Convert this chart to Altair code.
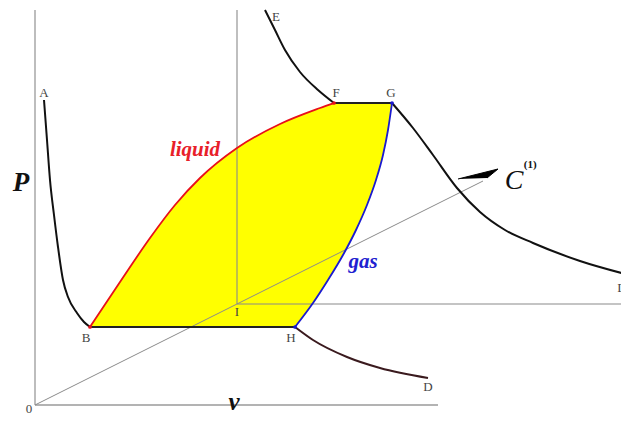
import altair as alt
import pandas as pd

# ---- curve data (v, P) ----
ab_v = [0.225, 0.3, 0.375, 0.475, 0.575, 0.7, 0.825, 1.05, 1.225, 1.375]
ab_p = [7.625, 6.625, 5.625, 4.75, 3.95, 3.125, 2.7, 2.3, 2.075, 1.95]

liq_v = [1.375, 2.125, 2.875, 3.5, 4.125, 5.05, 6.125, 7.125, 7.475]
liq_p = [1.95, 3.075, 4.175, 5.0, 5.675, 6.425, 7.025, 7.425, 7.55]

gas_v = [6.5, 6.95, 7.325, 7.7, 8.025, 8.3, 8.525, 8.7, 8.825, 8.925]
gas_p = [1.95, 2.55, 3.125, 3.75, 4.375, 5.0, 5.625, 6.25, 6.875, 7.55]

ef_v = [5.75, 6.0, 6.25, 6.625, 7.075, 7.475]
ef_p = [9.875, 9.375, 8.875, 8.325, 7.875, 7.55]

gd_v = [8.925, 9.45, 9.95, 10.55, 11.125, 11.75, 12.45, 13.625, 14.85]
gd_p = [7.55, 6.925, 6.25, 5.425, 4.825, 4.375, 4.05, 3.6, 3.25]

hd_v = [6.5, 6.95, 7.8, 8.625, 9.825]
hd_p = [1.95, 1.625, 1.2, 0.925, 0.675]

bh_v = [1.375, 6.5]
bh_p = [1.95, 1.95]
fg_v = [7.475, 8.925]
fg_p = [7.55, 7.55]

# guide lines
axis_v_v = [0, 0]; axis_v_p = [0, 9.875]
axis_h_v = [0, 10.075]; axis_h_p = [0, 0]
inner_v_v = [5.05, 5.05]; inner_v_p = [2.525, 9.875]
inner_h_v = [5.05, 14.9]; inner_h_p = [2.525, 2.525]
diag_v = [0, 11.2]; diag_p = [0, 5.6]

arrow_v = [10.575, 11.575, 11.3]
arrow_p = [5.65, 5.9, 5.675]

# vertex dots
dot_v = [1.375, 7.475, 8.925, 6.5]
dot_p = [1.95, 7.55, 7.55, 1.95]
dot_c = ["#e8101a", "#e8101a", "#1a1ad0", "#1a1ad0"]

# labels
lab_text = ["A", "B", "H", "D", "D", "E", "F", "G", "I", "0"]
lab_v = [0.225, 1.275, 6.4, 9.825, 14.675, 6.025, 7.525, 8.9, 5.05, -0.15]
lab_p = [7.8, 1.675, 1.675, 0.45, 2.925, 9.7, 7.8, 7.8, 2.325, -0.1]

curve_rows = []
straight_rows = []
def add(target, name, vs, ps, color, width):
    for i, (v, p) in enumerate(zip(vs, ps)):
        target.append(dict(series=name, i=i, v=v, P=p, col=color, w=width))

add(straight_rows, "axv", axis_v_v, axis_v_p, "#9a9a9a", 1.3)
add(straight_rows, "axh", axis_h_v, axis_h_p, "#9a9a9a", 1.3)
add(straight_rows, "inv", inner_v_v, inner_v_p, "#8a8a8a", 1.1)
add(straight_rows, "inh", inner_h_v, inner_h_p, "#8a8a8a", 1.1)
add(straight_rows, "diag", diag_v, diag_p, "#8a8a8a", 1.0)
add(straight_rows, "bh", bh_v, bh_p, "#222222", 2.0)
add(straight_rows, "fg", fg_v, fg_p, "#222222", 2.0)
add(curve_rows, "ab", ab_v, ab_p, "#111111", 2.0)
add(curve_rows, "ef", ef_v, ef_p, "#111111", 2.0)
add(curve_rows, "gd", gd_v, gd_p, "#111111", 2.0)
add(curve_rows, "hd", hd_v, hd_p, "#3a1a1e", 2.0)
add(curve_rows, "liq", liq_v, liq_p, "#e8101a", 1.8)
add(curve_rows, "gas", gas_v, gas_p, "#1a1ad0", 1.8)
curves_df = pd.DataFrame(curve_rows)
straight_df = pd.DataFrame(straight_rows)

rect_df = pd.DataFrame(dict(v=[bh_v[0]], v2=[fg_v[1]], P=[bh_p[0]], P2=[fg_p[0]]))
liq_df = pd.DataFrame(dict(v=liq_v, P=liq_p, top=[fg_p[0] + 0.05] * len(liq_v)))
gas_df = pd.DataFrame(dict(v=gas_v, P=gas_p, bot=[bh_p[0] - 0.05] * len(gas_v)))
arrow_df = pd.DataFrame(dict(v=arrow_v, P=arrow_p, i=list(range(len(arrow_v)))))
dot_df = pd.DataFrame(dict(v=dot_v, P=dot_p, c=dot_c))
lab_df = pd.DataFrame(dict(t=lab_text, v=lab_v, P=lab_p))

xs = alt.Scale(domain=[-0.675, 14.65], nice=False, zero=False)
ys = alt.Scale(domain=[-0.25, 9.925], nice=False, zero=False)
X = alt.X("v:Q", scale=xs, axis=None)
Y = alt.Y("P:Q", scale=ys, axis=None)

# yellow two-phase region: rectangle, trimmed outside the liquid and gas curves
yellow = alt.Chart(rect_df).mark_rect(color="#ffff00").encode(
    x=X, x2="v2:Q", y=Y, y2="P2:Q")
mask_liq = alt.Chart(liq_df).mark_area(color="white", interpolate="monotone", orient="vertical").encode(
    x=X, y=Y, y2="top:Q")
mask_gas = alt.Chart(gas_df).mark_area(color="white", interpolate="monotone", orient="vertical").encode(
    x=X, y=Y, y2="bot:Q")

straight = alt.Chart(straight_df).mark_line(clip=True).encode(
    x=X, y=Y, detail="series:N", order="i:Q",
    color=alt.Color("col:N", scale=None),
    strokeWidth=alt.StrokeWidth("w:Q", scale=None))

curves = alt.Chart(curves_df).mark_line(clip=True, interpolate="monotone").encode(
    x=X, y=Y, detail="series:N",
    color=alt.Color("col:N", scale=None),
    strokeWidth=alt.StrokeWidth("w:Q", scale=None))

arrow = alt.Chart(arrow_df).mark_line(fill="#000000", stroke="#000000", strokeWidth=1, clip=True).encode(
    x=X, y=Y, order="i:Q")

dots = alt.Chart(dot_df).mark_circle(size=14, opacity=1).encode(
    x=X, y=Y, color=alt.Color("c:N", scale=None))

labels = alt.Chart(lab_df).mark_text(font="Liberation Serif", fontSize=13, color="#444444", clip=True).encode(
    x=X, y=Y, text="t:N")

def txt(t, v, p, size, color, style="italic", weight="bold", baseline="middle"):
    d = pd.DataFrame(dict(t=[t], v=[v], P=[p]))
    return alt.Chart(d).mark_text(font="Liberation Serif", fontSize=size, color=color,
                                  fontStyle=style, fontWeight=weight, baseline=baseline).encode(
        x=X, y=Y, text="t:N")

t_liq = txt("liquid", 4.0, 6.375, 21, "#e8202a")
t_gas = txt("gas", 8.2, 3.575, 21, "#2020d0")
t_P = txt("P", -0.35, 5.55, 27, "#111111")
t_v = txt("v", 4.975, -0.24, 25, "#111111", baseline="bottom")
t_C = txt("C", 11.975, 5.6, 28, "#111111", weight="normal")
t_1 = txt("(1)", 12.38, 5.99, 11, "#111111", style="normal", weight="bold")

chart = alt.layer(yellow, mask_liq, mask_gas, straight, curves, arrow, dots, labels,
                  t_liq, t_gas, t_P, t_v, t_C, t_1).properties(
    width=613, height=407, padding=0, autosize=alt.AutoSizeParams(type="none")
).configure_view(stroke=None)

chart.save("out.html", embed_options={"renderer": "svg", "actions": False})
